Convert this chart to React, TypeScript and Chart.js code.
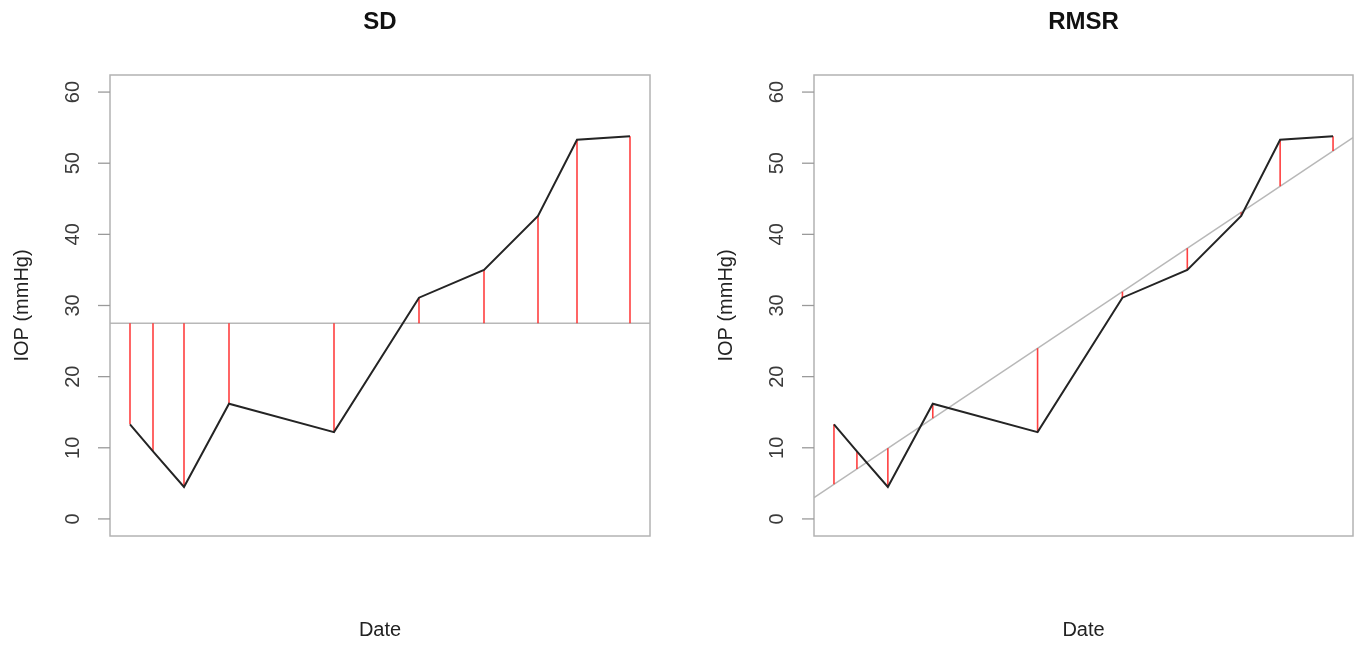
import React, { useEffect, useRef } from "react";
import Chart from "chart.js/auto";

// ---- data ----
const xDays = [0, 23, 54, 99, 204, 289, 354, 408, 447, 500];
const iopValues = [13.3, 9.5, 4.5, 16.2, 12.2, 31.1, 35.0, 42.6, 53.3, 53.8];
const yTickValues = [0, 10, 20, 30, 40, 50, 60];
const yTickLabels = ["0", "10", "20", "30", "40", "50", "60"];
const panelTitles = ["SD", "RMSR"];
const xAxisTitle = "Date";
const yAxisTitle = "IOP (mmHg)";
const sdReferenceLevel = 27.5;
const xLimits = [-20, 520];
const yLimits = [-2.4, 62.4];

const FONT = '"Liberation Sans", Arial, sans-serif';

function linearFit(xs: number[], ys: number[]) {
  const n = xs.length;
  const mx = xs.reduce((a, b) => a + b, 0) / n;
  const my = ys.reduce((a, b) => a + b, 0) / n;
  let sxy = 0;
  let sxx = 0;
  for (let i = 0; i < n; i++) {
    sxy += (xs[i] - mx) * (ys[i] - my);
    sxx += (xs[i] - mx) * (xs[i] - mx);
  }
  const slope = sxy / sxx;
  return { slope, intercept: my - slope * mx };
}

type PanelKind = "sd" | "rmsr";

function buildDatasets(kind: PanelKind) {
  const fit = linearFit(xDays, iopValues);
  const refAt = (x: number) =>
    kind === "sd" ? sdReferenceLevel : fit.intercept + fit.slope * x;

  const residuals: any[] = [];
  xDays.forEach((x, i) => {
    residuals.push({ x, y: refAt(x) });
    residuals.push({ x, y: iopValues[i] });
    residuals.push({ x, y: null });
  });

  return [
    {
      label: "IOP",
      data: xDays.map((x, i) => ({ x, y: iopValues[i] })),
      borderColor: "#242424",
      borderWidth: 2,
      pointRadius: 0,
      tension: 0,
      order: 0,
    },
    {
      label: "residuals",
      data: residuals,
      borderColor: "rgba(255,30,30,0.85)",
      borderWidth: 1.6,
      pointRadius: 0,
      spanGaps: false,
      order: 1,
    },
    {
      label: "reference",
      data: [
        { x: xLimits[0], y: refAt(xLimits[0]) },
        { x: xLimits[1], y: refAt(xLimits[1]) },
      ],
      borderColor: "#b8b8b8",
      borderWidth: 1.6,
      pointRadius: 0,
      order: 2,
    },
  ];
}

const decorPlugin = (title: string) => ({
  id: "decor",
  afterDraw(chart: any) {
    const { ctx, chartArea } = chart;
    const { left, right, top, bottom } = chartArea;
    const yScale = chart.scales.y;
    ctx.save();
    // plot box
    ctx.strokeStyle = "#b3b3b3";
    ctx.lineWidth = 1.5;
    ctx.strokeRect(left, top, right - left, bottom - top);
    // y ticks + labels
    ctx.strokeStyle = "#9a9a9a";
    ctx.lineWidth = 1.3;
    ctx.fillStyle = "#3a3a3a";
    ctx.font = `20px ${FONT}`;
    ctx.textAlign = "center";
    ctx.textBaseline = "middle";
    yTickValues.forEach((v, i) => {
      const y = yScale.getPixelForValue(v);
      ctx.beginPath();
      ctx.moveTo(left - 12, y);
      ctx.lineTo(left, y);
      ctx.stroke();
      ctx.save();
      ctx.translate(left - 37, y);
      ctx.rotate(-Math.PI / 2);
      ctx.fillText(yTickLabels[i], 0, 0);
      ctx.restore();
    });
    // y axis title
    ctx.fillStyle = "#222";
    ctx.save();
    ctx.translate(left - 88, (top + bottom) / 2);
    ctx.rotate(-Math.PI / 2);
    ctx.fillText(yAxisTitle, 0, 0);
    ctx.restore();
    // x axis title
    ctx.fillText(xAxisTitle, (left + right) / 2, 630);
    // panel title
    ctx.fillStyle = "#111";
    ctx.font = `bold 24px ${FONT}`;
    ctx.fillText(title, (left + right) / 2, 22);
    ctx.restore();
  },
});

function Panel(props: {
  kind: PanelKind;
  title: string;
  left: number;
  width: number;
  padLeft: number;
  padRight: number;
}) {
  const ref = useRef<HTMLCanvasElement | null>(null);
  useEffect(() => {
    if (!ref.current) return;
    const chart = new Chart(ref.current, {
      type: "line",
      data: { datasets: buildDatasets(props.kind) as any },
      options: {
        animation: false,
        responsive: false,
        maintainAspectRatio: false,
        layout: {
          padding: { left: props.padLeft, right: props.padRight, top: 75, bottom: 109 },
        },
        plugins: {
          legend: { display: false },
          title: { display: false },
          tooltip: { enabled: false },
        },
        scales: {
          x: { type: "linear", min: xLimits[0], max: xLimits[1], display: false },
          y: { type: "linear", min: yLimits[0], max: yLimits[1], display: false },
        },
      },
      plugins: [decorPlugin(props.title)],
    });
    return () => chart.destroy();
  }, []);
  return (
    <canvas
      ref={ref}
      width={props.width}
      height={645}
      style={{
        position: "absolute",
        left: props.left,
        top: 0,
        width: props.width,
        height: 645,
      }}
    />
  );
}

export default function App() {
  return (
    <div
      style={{
        position: "absolute",
        left: 0,
        top: 0,
        width: 1361,
        height: 645,
        background: "#fff",
        overflow: "hidden",
      }}
    >
      <Panel kind="sd" title={panelTitles[0]} left={0} width={680} padLeft={110} padRight={30} />
      <Panel kind="rmsr" title={panelTitles[1]} left={680} width={681} padLeft={134} padRight={8} />
    </div>
  );
}
